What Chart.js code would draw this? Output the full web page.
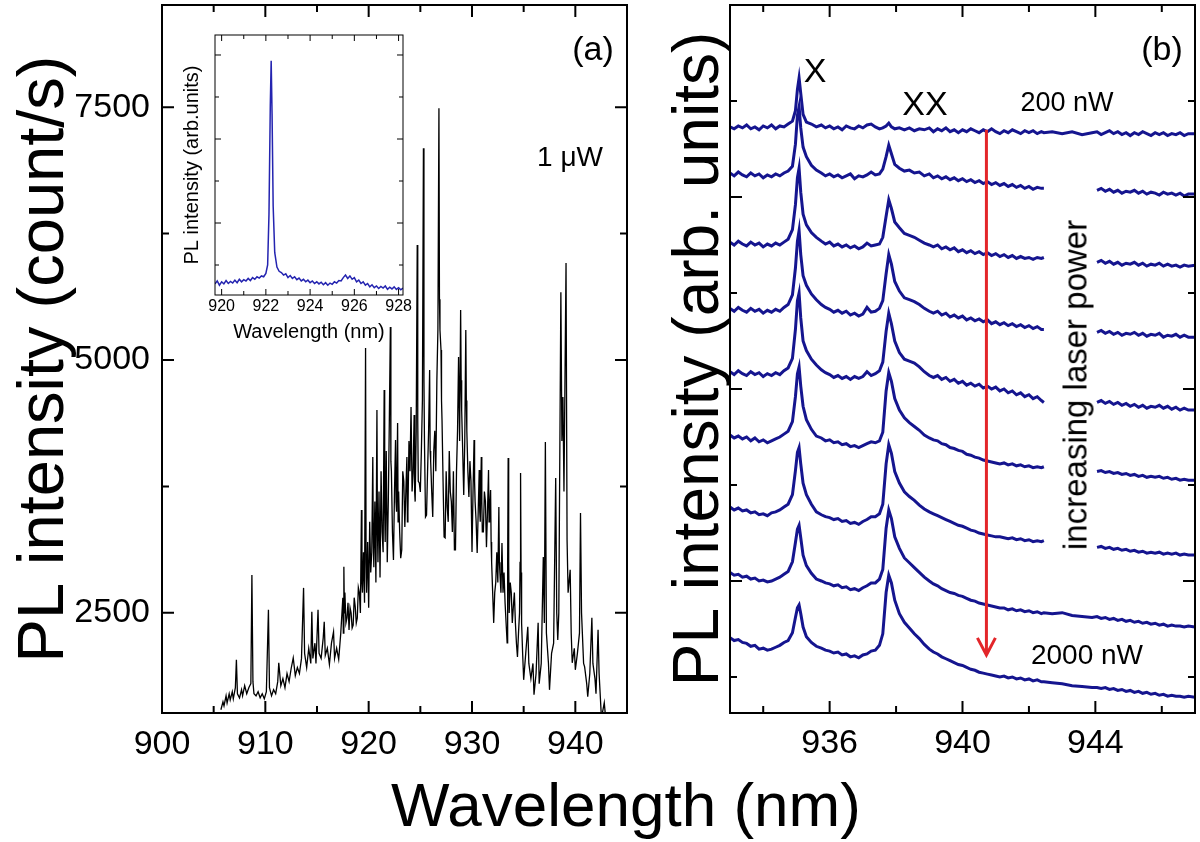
<!DOCTYPE html>
<html>
<head>
<meta charset="utf-8">
<script src="https://cdn.jsdelivr.net/npm/chart.js@4.4.0/dist/chart.umd.min.js"></script>
<style>
  body { margin: 0; background: #fff; }
  #fig { position: relative; width: 1200px; height: 842px; overflow: hidden; font-family: 'Liberation Sans', Arial, sans-serif; }
  #fig canvas { position: absolute; left: 0; top: 0; }
  .t { position: absolute; line-height: 1; white-space: nowrap; transform: translate(-50%, -50%); color: #000; }
</style>
</head>
<body>
<div id="fig">
  <canvas id="panelA" width="1200" height="842"></canvas>
  <canvas id="panelB" width="1200" height="842"></canvas>
  <canvas id="inset" width="1200" height="842"></canvas>
  <div class="t" style="left:593px;top:48px;font-size:34px">(a)</div>
  <div class="t" style="left:570px;top:157px;font-size:28px">1 μW</div>
  <div class="t" style="left:1162px;top:48px;font-size:34px">(b)</div>
  <div class="t" style="left:815px;top:70px;font-size:34px">X</div>
  <div class="t" style="left:925px;top:103px;font-size:34px">XX</div>
  <div class="t" style="left:1067px;top:102px;font-size:27px">200 nW</div>
  <div class="t" style="left:1087px;top:655px;font-size:28px">2000 nW</div>
  <div class="t" style="left:1075px;top:385px;font-size:33px;transform:translate(-50%,-50%) rotate(-90deg)">increasing laser power</div>
  <div class="t" style="left:626px;top:805px;font-size:62px">Wavelength (nm)</div>
</div>
<script>
// panel (a): PL spectrum at 1 uW, [wavelength nm, counts/s]
const aSpectrum = [
  [905.7,1542],[905.9,1620],[906.0,1580],[906.2,1680],[906.3,1610],[906.5,1700],[906.6,1640],[906.8,1720],
  [906.9,1650],[907.1,1760],[907.2,2036],[907.3,1700],[907.5,1660],[907.7,1740],[907.8,1680],[908.0,1780],
  [908.2,1700],[908.4,1760],[908.6,1800],[908.7,2875],[908.8,1820],[908.9,1700],[909.1,1680],[909.3,1720],
  [909.5,1660],[909.7,1700],[909.9,1650],[910.1,1720],[910.3,2530],[910.4,1760],[910.6,1680],[910.8,1740],
  [911.0,1700],[911.2,1820],[911.3,2006],[911.5,1780],[911.7,1850],[911.9,1760],[912.1,1900],[912.3,1820],
  [912.5,1950],[912.7,2055],[912.9,1880],[913.1,1960],[913.3,1900],[913.5,2050],[913.7,2747],[913.8,2100],
  [914.0,1960],[914.2,2150],[914.4,2000],[914.5,2510],[914.6,2050],[914.8,2200],[914.9,2000],[915.1,2530],
  [915.2,2100],[915.4,2050],[915.6,2250],[915.7,2411],[915.8,2080],[916.0,2150],[916.2,1990],[916.4,2200],
  [916.6,2312],[916.7,2050],[916.9,2150],[917.1,2040],[917.3,2300],
  [917.5,2650],[917.55,2300],[917.6,2955],[917.65,2500],[917.7,2700],[917.8,2400],[917.9,2450],[918.0,2600],
  [918.1,2330],[918.2,2550],[918.3,2500],[918.4,2350],[918.5,2380],[918.6,2650],[918.7,2560],[918.8,2400],
  [918.9,2450],[919.0,2750],[919.1,2700],[919.2,2500],[919.3,3518],[919.35,2800],[919.4,2700],[919.5,3100],
  [919.6,2600],[919.7,5118],[919.75,3000],[919.8,2700],[919.9,3200],[920.0,2550],[920.1,3400],[920.2,2900],
  [920.3,3100],[920.4,4041],[920.45,3200],[920.5,2950],[920.6,3600],[920.7,2800],[920.8,4506],[920.85,3300],
  [920.9,3000],[921.0,3700],[921.1,2850],[921.2,3900],[921.3,3300],[921.4,3100],[921.5,4703],[921.55,3500],
  [921.6,3200],[921.7,4100],[921.8,3000],[921.9,3600],[922.0,4400],[922.1,5326],[922.15,4000],[922.2,3900],
  [922.3,3300],[922.4,3024],[922.5,3700],[922.6,4209],[922.65,3600],[922.7,3500],[922.8,4377],[922.85,3400],
  [922.9,3700],[923.0,3300],[923.1,3040],[923.2,3122],[923.3,3900],[923.4,3800],[923.5,3350],[923.6,3700],
  [923.7,4041],[923.75,3400],[923.8,3500],[923.9,4200],[924.0,3900],[924.1,4535],[924.2,3700],[924.3,3883],
  [924.4,4456],[924.45,3700],[924.5,3600],[924.6,4300],[924.7,6136],[924.75,4400],[924.8,3800],[924.9,3784],
  [925.0,3695],[925.1,4100],[925.2,4600],[925.3,7094],[925.35,4800],[925.4,4200],[925.5,3448],[925.6,3468],
  [925.7,3900],[925.8,4300],[925.9,4900],[925.95,4100],[926.0,4000],[926.1,3700],[926.2,3448],[926.3,4100],
  [926.4,4300],[926.5,3900],[926.6,4800],[926.7,5300],[926.8,7489],[926.85,5600],[926.9,5296],[927.0,5100],
  [927.05,4600],[927.1,4400],[927.2,3800],[927.3,3250],[927.4,3241],[927.5,3900],[927.6,3547],[927.7,3400],
  [927.8,4100],[927.9,3700],[928.0,3600],[928.1,3300],[928.2,3900],[928.3,3122],[928.4,3122],[928.5,3900],
  [928.6,4300],[928.7,5030],[928.75,4600],[928.8,4200],[928.9,5494],[928.95,4800],[929.0,4500],[929.1,4100],
  [929.2,3665],[929.3,4200],[929.4,5296],[929.45,4600],[929.5,4300],[929.6,3900],[929.7,3646],[929.8,4000],
  [929.9,3800],[930.0,3103],[930.1,3700],[930.2,4209],[930.25,3800],[930.3,3600],[930.4,3400],[930.5,3093],
  [930.6,3500],[930.7,3913],[930.75,3500],[930.8,3400],[930.9,4041],[930.95,3600],[931.0,3300],[931.1,3300],
  [931.2,3700],[931.3,3600],[931.4,3150],[931.5,3500],[931.6,3913],[931.65,3400],[931.7,3500],[931.8,3715],
  [931.85,3200],[931.9,3000],[932.0,2700],[932.1,2401],[932.2,2700],[932.3,2800],[932.4,3100],[932.5,2800],
  [932.6,3547],[932.65,3000],[932.7,2900],[932.8,2700],[932.9,3191],[933.0,2700],[933.1,2900],[933.2,2600],
  [933.3,2400],[933.4,2204],[933.45,3000],[933.5,4031],[933.55,3000],[933.6,2500],[933.7,2800],[933.8,2700],
  [933.9,2400],[934.0,2559],[934.1,2700],[934.2,2400],[934.3,2200],[934.4,2065],[934.5,2300],[934.6,2500],
  [934.65,3000],[934.7,3883],[934.75,2900],[934.8,2400],[934.9,2100],[935.0,1838],
  [935.2,2100],[935.4,2362],[935.5,2000],[935.7,1850],[935.9,2000],
  [936.0,1690],[936.2,1900],[936.4,2401],[936.5,1800],[936.7,2000],[936.9,3053],[937.0,2400],[937.1,4190],
  [937.2,2300],[937.4,2000],[937.5,1739],[937.7,2100],[937.9,2200],[938.1,3834],[938.2,2500],[938.3,2233],
  [938.4,2500],[938.6,5671],[938.7,4200],[938.8,4634],[938.9,3700],[939.1,5958],[939.2,3221],[939.3,2700],
  [939.5,2925],[939.6,2300],[939.7,2006],[939.9,2150],[940.0,1937],[940.2,2100],[940.4,2300],[940.5,3488],
  [940.6,2500],[940.8,2000],[940.9,1966],[941.1,1800],[941.2,1670],[941.4,1900],[941.6,2451],[941.7,2000],
  [941.9,1850],[942.0,1700],[942.2,2332],[942.3,1900],[942.5,1512],[942.6,1500],[942.8,1611],[942.9,1500]
];
const aXTicks = [900, 910, 920, 930, 940];
const aYTicks = [2500, 5000, 7500];

// inset: single dot line, [wavelength nm, arb. units]
const insetSpectrum = [
  [919.7,0.55],[919.8,0.62],[919.9,0.52],[920.0,0.60],[920.1,0.55],[920.2,0.63],[920.3,0.56],[920.4,0.61],
  [920.5,0.57],[920.6,0.64],[920.7,0.58],[920.8,0.66],[920.9,0.60],[921.0,0.65],[921.1,0.62],[921.2,0.68],
  [921.3,0.63],[921.4,0.70],[921.5,0.66],[921.6,0.72],[921.7,0.69],[921.8,0.74],[921.9,0.72],[922.0,0.80],
  [922.08,1.0],[922.14,2.2],[922.2,4.8],[922.24,5.86],[922.28,4.6],[922.33,2.4],[922.4,1.3],[922.5,0.95],
  [922.6,0.85],[922.7,0.82],[922.8,0.76],[922.9,0.79],[923.0,0.70],[923.1,0.75],[923.2,0.68],[923.3,0.72],
  [923.4,0.65],[923.5,0.69],[923.6,0.62],[923.7,0.66],[923.8,0.60],[923.9,0.64],[924.0,0.58],[924.1,0.62],
  [924.2,0.56],[924.3,0.60],[924.4,0.55],[924.5,0.59],[924.6,0.53],[924.7,0.58],[924.8,0.52],[924.9,0.57],
  [925.0,0.54],[925.1,0.60],[925.2,0.57],[925.3,0.63],[925.4,0.62],[925.5,0.70],[925.6,0.76],[925.7,0.68],
  [925.8,0.74],[925.9,0.66],[926.0,0.70],[926.1,0.60],[926.2,0.64],[926.3,0.56],[926.4,0.60],[926.5,0.52],
  [926.6,0.56],[926.7,0.48],[926.8,0.53],[926.9,0.46],[927.0,0.50],[927.1,0.44],[927.2,0.49],[927.3,0.45],
  [927.4,0.50],[927.5,0.42],[927.6,0.47],[927.7,0.43],[927.8,0.48],[927.9,0.42],[928.0,0.46],[928.1,0.41],
  [928.2,0.45]
];
const insetXTicks = [920, 922, 924, 926, 928];

// panel (b): power series, offset traces, 200 nW (top) -> 2000 nW (bottom)
const bWavelength = [
  933.0, 933.125, 933.25, 933.375, 933.5, 933.625, 933.75, 933.875, 934.0, 934.125, 934.25, 934.375, 934.5, 934.625, 934.75,
  934.88, 934.97, 935.03, 935.08, 935.13, 935.2, 935.3, 935.45, 935.6,
  935.75, 935.875, 936.0, 936.125, 936.25, 936.375, 936.5, 936.625, 936.75, 936.875, 937.0, 937.125, 937.25, 937.375, 937.5,
  937.6, 937.7, 937.78, 937.86, 937.96, 938.1, 938.25, 938.4, 938.55, 938.7,
  938.85, 939.0, 939.125, 939.25, 939.375, 939.5, 939.625, 939.75, 939.875, 940.0,
  940.125, 940.25, 940.375, 940.5, 940.625, 940.75, 940.875, 941.0, 941.125, 941.25,
  941.375, 941.5, 941.625, 941.75, 941.875, 942.0, 942.125, 942.25, 942.375, 942.45,
  942.7, 943.0, 943.3, 943.6, 943.9,
  944.05, 944.175, 944.3, 944.425, 944.55, 944.675, 944.8, 944.925, 945.05, 945.175,
  945.3, 945.425, 945.55, 945.675, 945.8, 945.925, 946.05, 946.175, 946.3, 946.425,
  946.55, 946.675, 946.8, 947.0
];
const gap = [null, null, null, null, null];
const trace1 = [
  573,571,574,572,575,571,573,570,574,572,575,571,574,573,576,
  579,590,612,624,608,586,578,576,573,
  575,572,574,571,573,570,574,572,571,574,572,575,576,573,571,
  572,574,577,573,571,572,570,572,569,571,
  570,572,568,571,569,572,568,570,567,570,568,571,569,567,570,568,571,568,566,569,567,570,568,566,569,567,569,566,568,567,
  568,566,568,565,567,
  568,565,567,569,566,568,565,567,564,567,565,568,566,564,567,565,567,564,566,565,567,564,566,566];
const trace2 = [
  525,522,526,523,521,525,522,524,520,523,521,524,522,525,527,
  532,555,585,594,572,552,542,533,528,
  525,522,524,521,523,520,522,524,519,522,521,523,526,523,524,
  529,542,554,545,534,530,527,528,525,526,
  522,524,520,522,519,521,518,520,517,519,516,518,515,517,514,516,513,515,512,514,511,513,510,512,509,511,508,510,509,509,
  ...gap,
  507,509,506,508,505,507,504,506,505,507,504,506,503,505,504,502,505,503,504,502,504,501,503,503];
const trace3 = [
  453,450,454,451,449,453,450,452,448,451,449,452,450,453,456,
  466,492,520,530,505,482,471,463,458,
  454,451,453,449,451,448,450,447,449,446,448,452,449,450,451,
  458,480,497,488,474,468,462,460,458,455,
  452,450,448,450,446,448,445,447,443,445,442,444,441,443,440,442,439,441,438,440,437,439,436,438,436,437,435,437,436,437,
  ...gap,
  432,434,431,433,430,432,429,431,430,432,429,431,428,430,429,431,428,430,428,429,427,429,428,429];
const trace4 = [
  384,381,385,382,380,384,381,383,379,382,380,383,381,385,388,
  398,426,454,465,440,418,408,399,393,
  388,385,383,380,382,379,381,377,379,376,378,385,380,381,384,
  392,420,440,430,412,402,395,393,391,388,
  384,381,379,381,377,379,375,377,374,376,372,374,371,373,370,372,368,370,367,369,366,368,365,367,364,366,363,365,362,362,
  ...gap,
  359,361,358,360,357,359,356,358,357,359,356,358,355,357,356,358,354,356,355,357,354,356,354,354];
const trace5 = [
  318,315,319,316,314,318,315,317,313,316,314,317,315,319,322,
  332,362,392,400,374,350,340,331,325,
  320,317,315,312,314,311,313,310,313,311,313,318,314,316,319,
  328,360,379,368,350,338,331,329,327,323,
  318,314,312,314,310,312,308,310,306,308,304,306,303,305,301,303,300,302,298,300,296,298,294,296,292,294,290,292,288,286,
  ...gap,
  286,288,285,287,284,286,283,285,282,284,281,283,280,282,281,283,280,282,279,281,278,280,278,278];
const trace6 = [
  252,249,251,248,250,246,249,245,247,244,246,248,250,253,256,
  266,292,316,323,303,282,268,258,251,
  249,246,247,244,245,242,243,240,241,239,241,243,245,244,246,
  255,298,317,308,290,278,270,265,261,257,
  252,249,247,246,243,242,239,238,236,235,232,231,229,228,226,225,224,223,222,223,221,222,220,221,219,220,218,219,218,219,
  ...gap,
  214,215,213,214,212,213,211,212,210,211,209,210,208,209,208,209,207,208,206,207,205,206,205,205];
const trace7 = [
  177,174,176,173,174,171,172,169,170,168,171,172,174,177,180,
  190,215,234,239,222,202,190,180,172,
  169,167,166,164,165,162,163,160,161,159,162,164,167,167,170,
  180,222,242,233,214,202,193,188,184,179,
  175,172,170,168,166,164,162,160,158,157,155,153,152,150,149,148,147,146,146,145,144,145,143,144,142,143,141,142,141,142,
  ...gap,
  135,136,134,135,133,134,132,133,131,132,130,131,129,130,129,130,128,129,128,129,127,128,127,127];
const trace8 = [
  109,106,107,104,105,102,103,100,101,99,100,102,104,107,110,
  120,140,154,158,145,127,116,108,102,
  100,98,97,95,96,93,94,91,92,90,93,95,98,98,102,
  112,155,174,165,146,134,124,119,114,109,
  104,100,97,95,92,90,88,87,85,84,82,80,79,77,76,75,74,73,72,72,70,71,69,70,68,69,67,68,66,67,
  66,67,64,63,62,
  63,61,62,60,61,59,60,58,59,57,58,56,57,55,56,54,55,53,54,53,53,52,53,52];
const trace9 = [
  41,38,39,36,35,32,33,29,30,28,29,31,33,36,38,
  46,62,72,75,66,52,42,36,32,
  30,28,27,25,26,23,24,21,22,20,23,24,27,28,33,
  45,88,106,98,80,66,57,51,45,40,
  34,29,26,24,21,19,17,15,13,12,10,8,7,5,4,3,2,1,0,1,-1,0,-2,-1,-3,-2,-4,-3,-5,-5,
  -6,-7,-9,-10,-11,
  -11,-12,-11,-13,-12,-14,-13,-15,-14,-16,-15,-17,-16,-18,-17,-19,-18,-20,-19,-20,-20,-21,-20,-21];
const bTraces = [trace1, trace2, trace3, trace4, trace5, trace6, trace7, trace8, trace9];
const bXTicks = [936, 940, 944];

Chart.defaults.font.family = "'Liberation Sans', Arial, sans-serif";
Chart.defaults.color = '#000';

// frame + inward ticks on all four sides
const frameTicks = {
  id: 'frameTicks',
  afterDraw(chart, args, o) {
    const { ctx, chartArea: a, scales: { x, y } } = chart;
    ctx.save();
    ctx.strokeStyle = '#000';
    ctx.lineWidth = o.width;
    ctx.beginPath();
    const xs = [[o.xMajor, o.majorLen], [o.xMinor, o.minorLen]];
    xs.forEach(([vals, len]) => vals.forEach(v => {
      const p = x.getPixelForValue(v);
      ctx.moveTo(p, a.bottom); ctx.lineTo(p, a.bottom - len);
      ctx.moveTo(p, a.top); ctx.lineTo(p, a.top + len);
    }));
    const ys = [[o.yMajor, o.majorLen], [o.yMinor, o.minorLen]];
    ys.forEach(([vals, len]) => vals.forEach(v => {
      const p = y.getPixelForValue(v);
      ctx.moveTo(a.left, p); ctx.lineTo(a.left + len, p);
      ctx.moveTo(a.right, p); ctx.lineTo(a.right - len, p);
    }));
    ctx.stroke();
    ctx.strokeRect(a.left, a.top, a.right - a.left, a.bottom - a.top);
    ctx.restore();
  }
};

const powerArrow = {
  id: 'powerArrow',
  afterDatasetsDraw(chart, args, o) {
    const { ctx, scales: { x, y } } = chart;
    const px = x.getPixelForValue(o.at);
    const y0 = y.getPixelForValue(o.from), y1 = y.getPixelForValue(o.to);
    ctx.save();
    ctx.strokeStyle = '#e3262a';
    ctx.lineWidth = 3;
    ctx.beginPath();
    ctx.moveTo(px, y0); ctx.lineTo(px, y1);
    ctx.moveTo(px - 9, y1 - 17); ctx.lineTo(px, y1); ctx.lineTo(px + 9, y1 - 17);
    ctx.stroke();
    ctx.restore();
  }
};

const fixedTicks = vals => scale => { scale.ticks = vals.map(v => ({ value: v })); };
const fixSize = (key, size) => s => {
  s[key] = size;
  s.paddingTop = s.paddingBottom = s.paddingLeft = s.paddingRight = 0;
};
const noGrid = { display: false, drawTicks: false };

new Chart(document.getElementById('panelA'), {
  type: 'line',
  data: {
    datasets: [{
      data: aSpectrum.map(([x, y]) => ({ x, y })),
      borderColor: '#000', borderWidth: 1.3, pointRadius: 0, tension: 0
    }]
  },
  options: {
    responsive: false, devicePixelRatio: 1, animation: false,
    layout: { padding: { left: 0, top: 5, right: 573, bottom: 0 } },
    plugins: {
      legend: { display: false }, tooltip: { enabled: false },
      frameTicks: { width: 2, majorLen: 12, minorLen: 7,
        xMajor: aXTicks, xMinor: [905, 915, 925, 935], yMajor: aYTicks, yMinor: [3750, 6250] }
    },
    scales: {
      x: {
        type: 'linear', min: 900, max: 945, grid: noGrid, border: { display: false },
        afterBuildTicks: fixedTicks(aXTicks), afterFit: fixSize('height', 129),
        ticks: { font: { size: 34 }, padding: 11, maxRotation: 0, autoSkip: false, callback: v => String(v) }
      },
      y: {
        min: 1510, max: 8510, grid: noGrid, border: { display: false },
        afterBuildTicks: fixedTicks(aYTicks), afterFit: fixSize('width', 162),
        ticks: { font: { size: 34 }, padding: 12, autoSkip: false, callback: v => String(v) },
        title: { display: true, text: 'PL intensity (count/s)', font: { size: 65, lineHeight: 1 }, padding: { top: 13, bottom: 0 } }
      }
    }
  },
  plugins: [frameTicks]
});

new Chart(document.getElementById('panelB'), {
  type: 'line',
  data: {
    datasets: bTraces.map(tr => ({
      data: tr.map((v, i) => ({ x: bWavelength[i], y: v })),
      borderColor: '#15158f', borderWidth: 3, pointRadius: 0, tension: 0, spanGaps: false
    }))
  },
  options: {
    responsive: false, devicePixelRatio: 1, animation: false,
    layout: { padding: { left: 660, top: 5, right: 5, bottom: 0 } },
    plugins: {
      legend: { display: false }, tooltip: { enabled: false },
      frameTicks: { width: 2, majorLen: 12, minorLen: 7,
        xMajor: bXTicks, xMinor: [934, 938, 942, 946], yMajor: [100, 300, 500], yMinor: [0, 200, 400, 600] },
      powerArrow: { at: 940.72, from: 570, to: 23 }
    },
    scales: {
      x: {
        type: 'linear', min: 933, max: 947, grid: noGrid, border: { display: false },
        afterBuildTicks: fixedTicks(bXTicks), afterFit: fixSize('height', 129),
        ticks: { font: { size: 34 }, padding: 10, maxRotation: 0, autoSkip: false, callback: v => String(v) }
      },
      y: {
        min: -37.5, max: 700, grid: noGrid, border: { display: false },
        afterFit: fixSize('width', 70),
        ticks: { display: false },
        title: { display: true, text: 'PL intensity (arb. units)', font: { size: 64, lineHeight: 1 }, padding: { top: 8, bottom: 0 } }
      }
    }
  },
  plugins: [frameTicks, powerArrow]
});

new Chart(document.getElementById('inset'), {
  type: 'line',
  data: {
    datasets: [{
      data: insetSpectrum.map(([x, y]) => ({ x, y })),
      borderColor: '#2424b0', borderWidth: 1.5, pointRadius: 0, tension: 0
    }]
  },
  options: {
    responsive: false, devicePixelRatio: 1, animation: false,
    layout: { padding: { left: 170, top: 35, right: 797, bottom: 500 } },
    plugins: {
      legend: { display: false }, tooltip: { enabled: false },
      frameTicks: { width: 1, majorLen: 6, minorLen: 4,
        xMajor: insetXTicks, xMinor: [921, 923, 925, 927], yMajor: [2, 4, 6], yMinor: [1, 3, 5] }
    },
    scales: {
      x: {
        type: 'linear', min: 919.7, max: 928.2, grid: noGrid, border: { display: false },
        afterBuildTicks: fixedTicks(insetXTicks), afterFit: fixSize('height', 47),
        ticks: { font: { size: 16 }, padding: 2, maxRotation: 0, autoSkip: false, callback: v => String(v) },
        title: { display: true, text: 'Wavelength (nm)', font: { size: 20, lineHeight: 1 }, padding: { top: 0, bottom: 0 } }
      },
      y: {
        min: 0.286, max: 6.476, grid: noGrid, border: { display: false },
        afterFit: fixSize('width', 45),
        ticks: { display: false },
        title: { display: true, text: 'PL intensity (arb.units)', font: { size: 20, lineHeight: 1 }, padding: { top: 12, bottom: 0 } }
      }
    }
  },
  plugins: [frameTicks]
});
</script>
</body>
</html>
